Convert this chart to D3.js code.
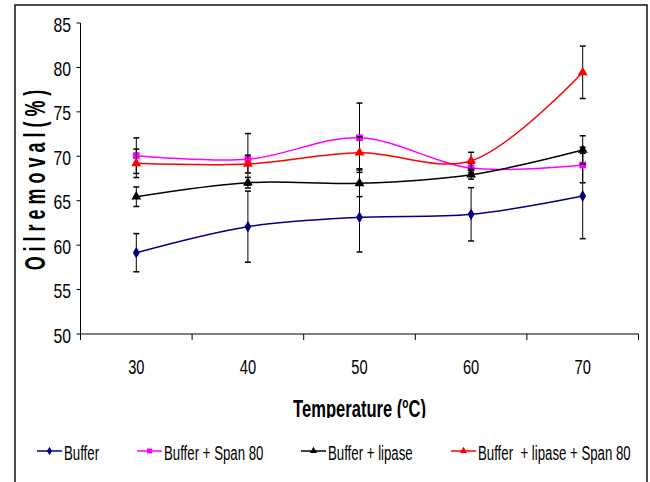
<!DOCTYPE html>
<html>
<head>
<meta charset="utf-8">
<script src="https://cdn.jsdelivr.net/npm/d3@7"></script>
<style>
  html, body { margin: 0; padding: 0; background: #fff; }
  svg { display: block; font-family: "Liberation Sans", Arial, sans-serif; }
</style>
</head>
<body>
<div id="chart"></div>
<script>
// Oil removal vs temperature, four treatments, Excel-style smoothed lines with error bars.
const temps = ["30", "40", "50", "60", "70"];
const yTicks = [50, 55, 60, 65, 70, 75, 80, 85];

const seriesNames = ["Buffer", "Buffer + Span 80", "Buffer + lipase", "Buffer  + lipase + Span 80"];
const buffer = [59.15, 62.08, 63.13, 63.47, 65.53];
const bufferErr = [2.15, 4.0, 3.9, 3.0, 4.8];
const bufferSpan = [70.07, 69.66, 72.09, 68.68, 69.02];
const bufferSpanErr = [2.0, 2.9, 3.9, 0.5, 2.0];
const bufferLipase = [65.45, 67.03, 66.96, 67.93, 70.71];
const bufferLipaseErr = [1.1, 0.6, 1.5, 0.5, 1.6];
const bufferLipaseSpan = [69.21, 69.13, 70.40, 69.50, 79.45];
const bufferLipaseSpanErr = [1.6, 1.0, 1.8, 0.95, 2.95];

const series = [
  { name: seriesNames[0], values: buffer, err: bufferErr, color: "#000080", symbol: d3.symbolDiamond, size: 40 },
  { name: seriesNames[1], values: bufferSpan, err: bufferSpanErr, color: "#ff00ff", symbol: d3.symbolSquare, size: 46 },
  { name: seriesNames[2], values: bufferLipase, err: bufferLipaseErr, color: "#000000", symbol: d3.symbolTriangle, size: 42 },
  { name: seriesNames[3], values: bufferLipaseSpan, err: bufferLipaseSpanErr, color: "#ff0000", symbol: d3.symbolTriangle, size: 42 },
];

const width = 650, height = 482;
const m = { left: 80.5, right: 638.5, top: 23, bottom: 334 };

const svg = d3.select("#chart").append("svg")
  .attr("width", width).attr("height", height)
  .attr("viewBox", `0 0 ${width} ${height}`);

// narrow text helper (the source uses a condensed face)
function ntext(g, x, y, str, size, sx, anchor, weight) {
  return g.append("text")
    .attr("transform", `translate(${x},${y}) scale(${sx},1)`)
    .attr("text-anchor", anchor || "start")
    .attr("font-size", size)
    .attr("font-weight", weight || "normal")
    .attr("fill", "#000")
    .text(str);
}

// outer frame
svg.append("rect").attr("x", 15).attr("y", 5).attr("width", 632).attr("height", 500)
  .attr("fill", "none").attr("stroke", "#111").attr("stroke-width", 1.5);

const x = d3.scaleBand().domain(temps).range([m.left, m.right]);
const y = d3.scaleLinear().domain([50, 85]).range([m.bottom, m.top]);
const cx = (i) => x(temps[i]) + x.bandwidth() / 2;

// axes
const axis = svg.append("g").attr("stroke", "#000").attr("stroke-width", 1);
axis.append("line").attr("x1", m.left).attr("x2", m.left).attr("y1", y(85)).attr("y2", y(50));
axis.append("line").attr("x1", m.left).attr("x2", m.right).attr("y1", y(50)).attr("y2", y(50));
axis.selectAll(".yt").data(yTicks).join("line")
  .attr("x1", m.left - 4).attr("x2", m.left).attr("y1", (d) => y(d)).attr("y2", (d) => y(d));
const bounds = temps.map((t) => x(t)).concat([m.right]);
axis.selectAll(".xt").data(bounds).join("line")
  .attr("x1", (d) => d).attr("x2", (d) => d).attr("y1", y(50)).attr("y2", y(50) + 6);

const labels = svg.append("g");
yTicks.forEach((t) => ntext(labels, 71, y(t) + 8.5, String(t), 21, 0.75, "end"));
temps.forEach((t, i) => ntext(labels, cx(i), 374, t, 21, 0.7, "middle"));

// x title, bottom clipped like the source
svg.append("defs").append("clipPath").attr("id", "xclip")
  .append("rect").attr("x", 0).attr("y", 380).attr("width", width).attr("height", 38);
const xg = labels.append("g").attr("clip-path", "url(#xclip)");
const xt = xg.append("text")
  .attr("transform", `translate(${(m.left + m.right) / 2},417) scale(0.72,1)`)
  .attr("text-anchor", "middle").attr("font-size", 23).attr("font-weight", "bold");
xt.append("tspan").text("Temperature (");
xt.append("tspan").attr("font-size", 14).attr("dy", -9).text("o");
xt.append("tspan").attr("dy", 9).text("C)");

// y title
labels.append("text")
  .attr("transform", `translate(45,180) rotate(-90) scale(0.62,1)`)
  .attr("text-anchor", "middle").attr("font-size", 29).attr("font-weight", "bold")
  .text("O i l  r e m o v a l ( % )");

// series
const line = d3.line().curve(d3.curveCatmullRom.alpha(0.5))
  .x((d, i) => cx(i)).y((d) => y(d));

series.forEach((s) => {
  const g = svg.append("g");
  const eb = g.append("g").attr("stroke", "#000");
  s.values.forEach((v, i) => {
    const px = cx(i), top = y(v + s.err[i]), bot = y(v - s.err[i]);
    eb.append("line").attr("x1", px).attr("x2", px).attr("y1", top).attr("y2", bot).attr("stroke-width", 1);
    eb.append("line").attr("x1", px - 3).attr("x2", px + 3).attr("y1", top).attr("y2", top).attr("stroke-width", 1.5);
    eb.append("line").attr("x1", px - 3).attr("x2", px + 3).attr("y1", bot).attr("y2", bot).attr("stroke-width", 1.5);
  });
  g.append("path").datum(s.values).attr("d", line)
    .attr("fill", "none").attr("stroke", s.color).attr("stroke-width", 1.5);
  g.selectAll("path.mk").data(s.values).join("path").attr("class", "mk")
    .attr("transform", (d, i) => `translate(${cx(i)},${y(d)})`)
    .attr("d", d3.symbol(s.symbol, s.size))
    .attr("fill", s.color);
});

// legend
const legendX = [37, 137, 301, 451];
const leg = svg.append("g");
series.forEach((s, k) => {
  const lx = legendX[k], ly = 451;
  leg.append("line").attr("x1", lx).attr("x2", lx + 25).attr("y1", ly).attr("y2", ly)
    .attr("stroke", s.color).attr("stroke-width", 1.5);
  leg.append("path").attr("transform", `translate(${lx + 12.5},${ly})`)
    .attr("d", d3.symbol(s.symbol, s.size * 0.55)).attr("fill", s.color);
  leg.append("text")
    .attr("transform", `translate(${lx + 27},459.5) scale(0.63,1)`)
    .attr("font-size", 21).style("white-space", "pre")
    .text(s.name);
});
</script>
</body>
</html>
